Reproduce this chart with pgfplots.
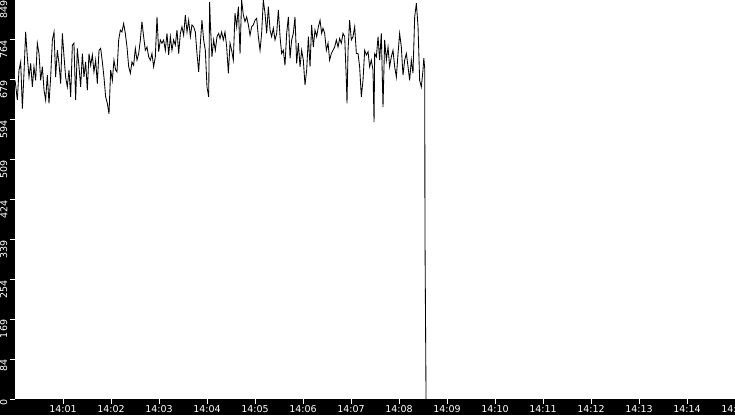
\documentclass[border=0pt]{standalone}
\usepackage{fontspec}
\setmainfont{DejaVu Sans}
\usepackage{pgfplots}
\pgfplotsset{compat=1.18}
\begin{document}
\begin{tikzpicture}[x=1pt,y=1pt]
\useasboundingbox (0,0) rectangle (735,415);
\fill[black] (0,0) rectangle (735,415);
\begin{axis}[
  at={(15pt,16pt)}, anchor=south west,
  scale only axis, width=720pt, height=399pt,
  xmin=0, xmax=900, ymin=0, ymax=849,
  axis background/.style={fill=white},
  axis line style={draw=none},
  tick align=outside, major tick length=5pt,
  tick style={white, line width=1pt},
  xtick pos=bottom, ytick pos=left,
  xtick={60,120,180,240,300,360,420,480,540,600,660,720,780,840,900},
  xticklabels={14:01,14:02,14:03,14:04,14:05,14:06,14:07,14:08,14:09,14:10,14:11,14:12,14:13,14:14,14:15},
  ytick={0,84.9,169.8,254.7,339.6,424.5,509.4,594.3,679.2,764.1,849},
  yticklabels={0,84,169,254,339,424,509,594,679,764,849},
  xticklabel style={white, font=\fontsize{9.5}{10}\selectfont, inner sep=0.5pt, yshift=-1pt},
  yticklabel style={white, font=\fontsize{9.5}{10}\selectfont, rotate=90, anchor=south east, inner sep=0.5pt, yshift=2pt},
]
\addplot[black, line width=0.85pt, mark=none] coordinates {
(0,678)(0.8,668)(2.9,636)(5.0,700)(7.1,717)(9.2,618)(11.3,696)(13.3,781)(15.4,728)(17.5,685)
(19.6,714)(21.7,664)(23.7,707)(25.8,678)(27.9,757)(30.0,735)(32.1,678)(34.2,707)(36.3,657)(38.3,636)
(40.4,689)(42.5,629)(44.6,685)(46.7,764)(48.8,781)(50.8,685)(52.9,742)(55.0,714)(57.1,671)(59.2,778)
(61.3,728)(63.3,685)(65.4,664)(67.5,700)(69.6,643)(71.7,753)(73.7,757)(75.8,636)(77.9,746)(80.0,707)
(82.1,664)(84.2,735)(86.2,685)(88.3,717)(90.4,657)(92.5,735)(94.6,710)(96.7,732)(98.7,696)(100.8,721)
(102.9,671)(105.0,742)(107.1,746)(109.2,717)(111.2,685)(113.3,643)(115.4,629)(117.5,607)(119.6,700)(121.7,678)
(123.7,721)(125.8,700)
(127.5,696)(129.6,764)(131.7,785)(133.7,781)(135.8,799)(137.9,778)(140.0,749)(142.1,707)(144.2,693)(146.2,717)
(148.3,710)(150.4,746)(152.5,721)(154.6,735)(156.7,764)(158.7,803)(160.8,771)(162.9,742)(165.0,749)(167.1,728)
(169.2,721)(171.2,735)(173.3,707)(175.4,728)(177.5,813)(179.6,739)(181.7,764)(183.7,757)(185.8,764)(187.9,742)
(190.0,778)(192.1,732)(194.2,771)(196.2,742)(198.3,764)(200.4,753)(202.5,785)(204.6,735)(206.7,778)(208.7,792)
(210.8,774)(212.9,817)(215.0,781)(217.1,806)(219.2,771)(221.2,796)(223.3,792)(225.4,781)(227.5,735)(229.6,696)
(231.7,757)(233.7,806)(235.8,764)(237.9,742)(240.0,664)(242.1,643)(243.3,845)(244.2,799)(246.2,728)(248.3,764)
(250.4,742)(252.5,771)(254.6,778)
(256.3,767)(258.3,781)(260.4,764)(262.5,781)(264.6,749)(266.7,693)(268.8,757)(270.8,742)(272.9,721)(275.0,821)
(277.1,792)(279.2,835)(281.3,735)(283.3,849)(285.4,817)(287.5,803)(289.6,813)(291.7,796)(293.8,774)(295.8,792)
(297.9,796)(300.0,806)(302.1,810)(304.2,771)(306.3,742)(308.3,778)(310.4,849)(312.5,821)(314.6,778)(316.7,835)
(318.8,785)(320.8,771)(322.9,789)(325.0,764)(327.1,778)(329.2,828)(331.3,771)(333.3,735)(335.4,742)(337.5,710)
(339.6,778)(341.7,813)(343.8,725)(345.8,764)(347.9,778)(350.0,813)(352.1,714)(354.2,757)(356.3,707)(358.3,742)
(360.4,721)(362.5,668)(364.6,700)(366.7,771)(368.8,707)(370.8,796)(372.9,749)(375.0,785)(377.1,771)(379.2,792)
(381.3,806)(383.3,778)
(385.0,789)(387.1,778)(389.2,742)(391.3,757)(393.3,721)(395.4,735)(397.5,742)(399.6,749)(401.7,764)(403.8,749)
(405.8,767)(407.9,757)(410.0,778)(412.1,771)(414.2,678)(415.0,629)(416.3,742)(418.3,806)(420.4,764)(422.5,771)
(424.6,792)(426.7,735)(428.8,735)(430.8,707)(432.9,643)(435.0,678)(437.1,742)(439.2,732)(441.3,739)(443.3,707)
(445.4,721)(447.5,700)(448.8,589)(449.6,735)(451.7,728)(453.8,771)(455.8,721)(457.9,778)(460.0,621)(462.1,764)
(464.2,721)(466.3,749)(468.3,707)(470.4,728)(472.5,742)(474.6,707)(476.7,685)(478.8,735)(480.8,778)(482.9,749)
(485.0,689)(487.1,721)(489.2,735)(491.3,707)(493.3,678)(495.4,721)(497.5,693)(499.6,813)(501.7,842)(503.8,792)
(505.8,678)(507.9,664)(510.0,700)(511.0,725)(512.1,705)(512.5,341)(513.8,0)
};
\end{axis}
\end{tikzpicture}
\end{document}
